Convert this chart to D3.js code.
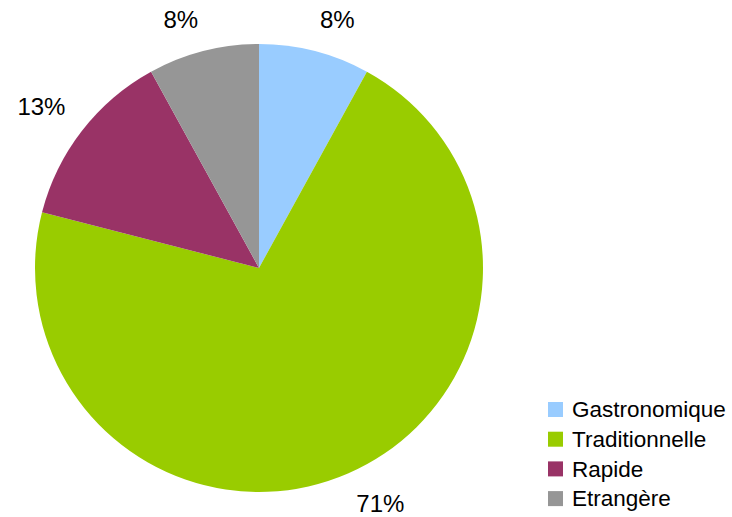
<!DOCTYPE html>
<html>
<head>
<meta charset="utf-8">
<script src="https://cdn.jsdelivr.net/npm/d3@7"></script>
<style>
  body { margin: 0; background: #fff; }
  text { font-family: "Liberation Sans", Arial, sans-serif; fill: #000; }
</style>
</head>
<body>
<div class="chart"></div>
<script>
var outerW = 732,
	outerH = 517;

// Data
var categories = ["Gastronomique", "Traditionnelle", "Rapide", "Etrangère"];
var values = [8, 71, 13, 8];
var labels = ["8%", "71%", "13%", "8%"];
var colors = ["#99CCFF", "#99CC00", "#993366", "#969696"];

var cx = 259, cy = 268, radius = 224;
var labelR = 245;

var svg = d3.select(".chart")
	.append("svg")
	.attr("width", outerW)
	.attr("height", outerH);

var pie = d3.pie().sort(null).value(function(d) { return d; });
var arcs = pie(values);

var arc = d3.arc().innerRadius(0).outerRadius(radius);

var g = svg.append("g")
	.attr("transform", "translate(" + cx + "," + cy + ")");

g.selectAll("path")
	.data(arcs)
	.enter()
	.append("path")
	.attr("d", arc)
	.attr("fill", function(d, i) { return colors[i]; });

// Labels sit just outside the pie, anchored away from it (Excel style)
function midAngle(d) { return (d.startAngle + d.endAngle) / 2; }

g.selectAll("text.label")
	.data(arcs)
	.enter()
	.append("text")
	.attr("class", "label")
	.attr("x", function(d) { return labelR * Math.sin(midAngle(d)); })
	.attr("y", function(d) {
		var c = Math.cos(midAngle(d));
		var y = -labelR * c;
		return c > 0 ? y - 3 : y + 19;
	})
	.attr("text-anchor", function(d) { return Math.sin(midAngle(d)) > 0 ? "start" : "end"; })
	.style("font-size", "24px")
	.text(function(d, i) { return labels[i]; });

// Legend
var legend = svg.append("g")
	.attr("transform", "translate(548,402)");

var rowH = 29.7;
var item = legend.selectAll("g")
	.data(categories)
	.enter()
	.append("g")
	.attr("transform", function(d, i) { return "translate(0," + (i * rowH) + ")"; });

item.append("rect")
	.attr("width", 15)
	.attr("height", 15)
	.attr("fill", function(d, i) { return colors[i]; });

item.append("text")
	.attr("x", 24)
	.attr("y", 7.5)
	.attr("dy", "0.35em")
	.style("font-size", "22.5px")
	.text(function(d) { return d; });
</script>
</body>
</html>
